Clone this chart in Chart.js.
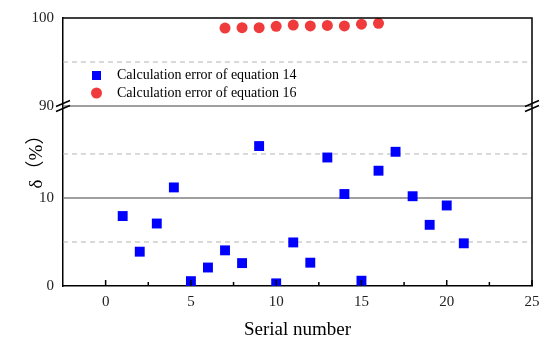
<!DOCTYPE html>
<html>
<head>
<meta charset="utf-8">
<script src="https://cdn.jsdelivr.net/npm/chart.js@4.4.0/dist/chart.umd.min.js"></script>
<style>
	html, body { margin: 0; padding: 0; background: #ffffff; }
</style>
</head>
<body>
<canvas id="myChart" width="550" height="345"></canvas>
<script>
// values
const serial14 = [1, 2, 3, 4, 5, 6, 7, 8, 9, 10, 11, 12, 13, 14, 15, 16, 17, 18, 19, 20, 21];
const error14 = [7.95, 3.9, 7.1, 11.2, 0.55, 2.1, 4.05, 2.6, 15.9, 0.3, 4.95, 2.65, 14.6, 10.45, 0.6, 13.1, 15.25, 10.2, 6.95, 9.15, 4.85];
const serial16 = [7, 8, 9, 10, 11, 12, 13, 14, 15, 16];
const error16 = [98.85, 98.9, 98.9, 99.05, 99.2, 99.1, 99.15, 99.1, 99.3, 99.4];

const xMajor = [0, 5, 10, 15, 20, 25];
const xMinor = [2.5, 7.5, 12.5, 17.5, 22.5];
const yTopTicks = [90, 100];
const yBottomTicks = [0, 10];
const topSolid = [90];
const topDashed = [95];
const bottomSolid = [10];
const bottomDashed = [5, 15];

const serif = '"Liberation Serif", "Times New Roman", serif';

const extras = {
	id: 'extras',
	beforeDatasetsDraw: (chart) => {
		const { ctx, chartArea } = chart;
		const yTop = chart.scales.yTop;
		const yBot = chart.scales.yBot;
		ctx.save();
		const line = (y, dashed) => {
			ctx.beginPath();
			ctx.setLineDash(dashed ? [5, 4] : []);
			ctx.strokeStyle = dashed ? '#b4b4b4' : '#808080';
			ctx.lineWidth = dashed ? 1 : 1.5;
			ctx.moveTo(chartArea.left, y);
			ctx.lineTo(chartArea.right, y);
			ctx.stroke();
		};
		topDashed.forEach(v => line(yTop.getPixelForValue(v), true));
		bottomDashed.forEach(v => line(yBot.getPixelForValue(v), true));
		topSolid.forEach(v => line(yTop.getPixelForValue(v), false));
		bottomSolid.forEach(v => line(yBot.getPixelForValue(v), false));
		ctx.restore();
	},
	afterDraw: (chart) => {
		const { ctx, chartArea } = chart;
		const x = chart.scales.x;
		const yTop = chart.scales.yTop;
		ctx.save();
		ctx.setLineDash([]);
		ctx.strokeStyle = '#000000';
		ctx.lineWidth = 1.5;
		// frame top and right
		ctx.beginPath();
		ctx.moveTo(chartArea.left, chartArea.top);
		ctx.lineTo(chartArea.right, chartArea.top);
		ctx.lineTo(chartArea.right, chartArea.bottom);
		ctx.stroke();
		// inward x ticks
		ctx.beginPath();
		xMajor.forEach(v => {
			const px = x.getPixelForValue(v);
			ctx.moveTo(px, chartArea.bottom);
			ctx.lineTo(px, chartArea.bottom - 6);
		});
		xMinor.forEach(v => {
			const px = x.getPixelForValue(v);
			ctx.moveTo(px, chartArea.bottom);
			ctx.lineTo(px, chartArea.bottom - 4);
		});
		ctx.stroke();
		// axis break marks
		const yb = yTop.getPixelForValue(90);
		[chartArea.left, chartArea.right].forEach(bx => {
			ctx.beginPath();
			[-2.5, 2.5].forEach(d => {
				ctx.moveTo(bx - 7, yb + d + 3);
				ctx.lineTo(bx + 7, yb + d - 3);
			});
			ctx.stroke();
		});
		// legend
		ctx.fillStyle = '#0000ff';
		ctx.fillRect(92, 71, 9, 9);
		ctx.fillStyle = '#ef3b3b';
		ctx.beginPath();
		ctx.arc(96.5, 93, 5.5, 0, Math.PI * 2);
		ctx.fill();
		ctx.fillStyle = '#000000';
		ctx.font = '14px ' + serif;
		ctx.textBaseline = 'middle';
		ctx.textAlign = 'left';
		ctx.fillText(chart.data.datasets[0].label, 117, 75.5);
		ctx.fillText(chart.data.datasets[1].label, 117, 93);
		// y title
		ctx.translate(37, 157);
		ctx.rotate(-Math.PI / 2);
		ctx.textAlign = 'center';
		ctx.font = '19px ' + serif + ', "Noto Sans CJK SC"';
		ctx.fillText('δ（%）', 0, 0);
		ctx.restore();
	}
};

const ctx = document.getElementById('myChart').getContext('2d');

const config = {
	type: 'scatter',
	data: {
		datasets: [{
			label: 'Calculation error of equation 14',
			data: serial14.map((s, i) => ({ x: s, y: error14[i] })),
			yAxisID: 'yBot',
			pointStyle: 'rect',
			pointRadius: 7,
			pointHoverRadius: 7,
			backgroundColor: '#0000ff',
			borderWidth: 0
		}, {
			label: 'Calculation error of equation 16',
			data: serial16.map((s, i) => ({ x: s, y: error16[i] })),
			yAxisID: 'yTop',
			pointStyle: 'circle',
			pointRadius: 5.5,
			pointHoverRadius: 5.5,
			backgroundColor: '#ef3b3b',
			borderWidth: 0
		}]
	},
	options: {
		responsive: false,
		animation: false,
		layout: { padding: { left: 0, right: 18, top: 15, bottom: 0 } },
		plugins: {
			legend: { display: false },
			tooltip: { enabled: false }
		},
		scales: {
			x: {
				type: 'linear',
				min: -2.5,
				max: 25,
				afterBuildTicks: (scale) => { scale.ticks = xMajor.map(v => ({ value: v })); },
				ticks: { font: { family: serif, size: 15 }, color: '#222222', padding: 7, maxRotation: 0 },
				grid: { display: false, drawTicks: false },
				border: { color: '#000000', width: 1.5 },
				title: { display: true, text: 'Serial number', font: { family: serif, size: 19 }, color: '#000000', padding: { top: 2 } },
				afterFit: (scale) => { scale.height = 59; }
			},
			// stacked left axes: the later one is placed on top
			yBot: {
				type: 'linear',
				position: 'left',
				stack: 'y',
				stackWeight: 20.45,
				min: 0,
				max: 20.45,
				afterBuildTicks: (scale) => { scale.ticks = yBottomTicks.map(v => ({ value: v })); },
				ticks: { font: { family: serif, size: 15 }, color: '#222222', padding: 9 },
				grid: { display: false, drawTicks: false },
				border: { color: '#000000', width: 1.5 },
				afterFit: (scale) => { scale.width = 63; }
			},
			yTop: {
				type: 'linear',
				position: 'left',
				stack: 'y',
				stackWeight: 10,
				min: 90,
				max: 100,
				afterBuildTicks: (scale) => { scale.ticks = yTopTicks.map(v => ({ value: v })); },
				ticks: { font: { family: serif, size: 15 }, color: '#222222', padding: 9 },
				grid: { display: false, drawTicks: false },
				border: { color: '#000000', width: 1.5 },
				afterFit: (scale) => { scale.width = 63; }
			}
		}
	},
	plugins: [extras]
};

const myChart = new Chart(ctx, config);
</script>
</body>
</html>
